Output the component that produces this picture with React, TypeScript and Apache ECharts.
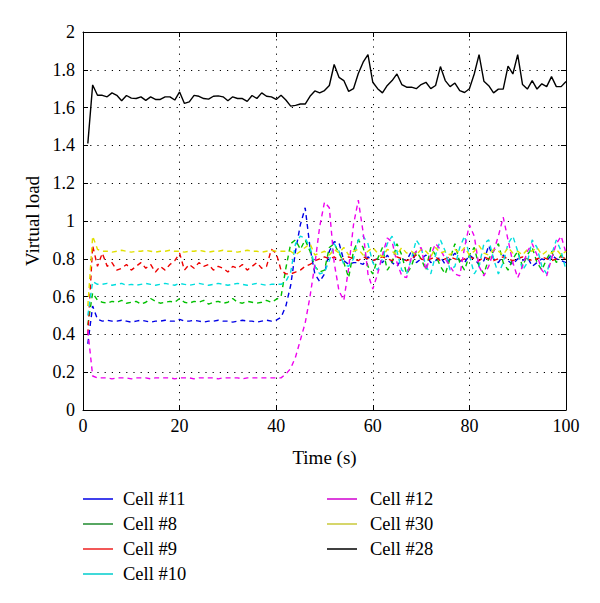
import React, { useEffect, useRef } from "react";
import * as echarts from "echarts";

const SERIES_NAMES = ["Cell #11", "Cell #8", "Cell #9", "Cell #10", "Cell #12", "Cell #30", "Cell #28"];
const SERIES_COLORS = ["#0000e6", "#00c000", "#ee0000", "#00dede", "#ee00ee", "#e0e000", "#000000"];
const LEGEND_COLORS = ["#0000e6", "#1f8a2e", "#ee2020", "#00cccc", "#d000d0", "#c8c83a", "#000000"];
const X_TICKS = [0, 20, 40, 60, 80, 100];
const Y_TICKS = [0, 0.2, 0.4, 0.6, 0.8, 1, 1.2, 1.4, 1.6, 1.8, 2];
const TIME_START = 1; // first sample at t = 1 s, one sample per second

const cell11 = [
  0.35, 0.55, 0.48, 0.47, 0.475, 0.47, 0.47, 0.475, 0.47, 0.465,
  0.47, 0.475, 0.47, 0.465, 0.47, 0.47, 0.475, 0.47, 0.47, 0.48,
  0.47, 0.47, 0.475, 0.47, 0.465, 0.47, 0.47, 0.475, 0.47, 0.47,
  0.465, 0.47, 0.475, 0.47, 0.47, 0.465, 0.47, 0.475, 0.47, 0.475,
  0.49, 0.55, 0.66, 0.84, 0.98, 1.07, 0.86, 0.72, 0.68, 0.72,
  0.84, 0.89, 0.885, 0.79, 0.77, 0.78, 0.78, 0.77, 0.81, 0.79,
  0.80, 0.78, 0.82, 0.78, 0.76, 0.80, 0.79, 0.84, 0.78, 0.80,
  0.82, 0.78, 0.79, 0.81, 0.77, 0.80, 0.83, 0.79, 0.78, 0.82,
  0.80, 0.77, 0.79, 0.87, 0.80, 0.78, 0.82, 0.79, 0.77, 0.80,
  0.79, 0.81, 0.76, 0.78, 0.80, 0.79, 0.82, 0.80, 0.79, 0.78,
];

const cell8 = [
  0.45, 0.62, 0.58, 0.57, 0.565, 0.575, 0.57, 0.58, 0.565, 0.57,
  0.575, 0.56, 0.57, 0.59, 0.575, 0.565, 0.57, 0.575, 0.57, 0.59,
  0.57, 0.565, 0.575, 0.57, 0.58, 0.56, 0.57, 0.575, 0.565, 0.57,
  0.59, 0.57, 0.565, 0.575, 0.57, 0.565, 0.57, 0.58, 0.57, 0.585,
  0.60, 0.75, 0.88, 0.90, 0.85, 0.90, 0.84, 0.76, 0.73, 0.74,
  0.86, 0.88, 0.83, 0.78, 0.70, 0.84, 0.90, 0.86, 0.76, 0.72,
  0.80, 0.86, 0.74, 0.78, 0.88, 0.82, 0.72, 0.76, 0.84, 0.80,
  0.74, 0.86, 0.82, 0.76, 0.72, 0.80, 0.88, 0.78, 0.74, 0.82,
  0.86, 0.76, 0.72, 0.80, 0.84, 0.88, 0.78, 0.74, 0.80, 0.84,
  0.76, 0.82, 0.86, 0.78, 0.74, 0.80, 0.84, 0.78, 0.82, 0.80,
];

const cell9 = [
  0.40, 0.87, 0.76, 0.83, 0.76, 0.78, 0.74, 0.75, 0.77, 0.74,
  0.76, 0.78, 0.75, 0.77, 0.73, 0.76, 0.74, 0.77, 0.79, 0.83,
  0.74, 0.77, 0.75, 0.78, 0.76, 0.77, 0.74, 0.76, 0.75, 0.73,
  0.76, 0.75, 0.77, 0.74, 0.76, 0.78, 0.75, 0.76, 0.85, 0.83,
  0.74, 0.72, 0.72, 0.73, 0.74, 0.76, 0.77, 0.79, 0.80, 0.81,
  0.80, 0.81, 0.79, 0.80, 0.81, 0.80, 0.79, 0.81, 0.80, 0.79,
  0.80, 0.81, 0.80, 0.79, 0.81, 0.80, 0.79, 0.80, 0.82, 0.80,
  0.79, 0.80, 0.81, 0.79, 0.80, 0.81, 0.80, 0.79, 0.80, 0.81,
  0.80, 0.79, 0.81, 0.80, 0.79, 0.80, 0.81, 0.80, 0.79, 0.80,
  0.81, 0.80, 0.79, 0.80, 0.81, 0.80, 0.79, 0.80, 0.81, 0.80,
];

const cell10 = [
  0.50, 0.68, 0.665, 0.665, 0.67, 0.66, 0.665, 0.67, 0.66, 0.665,
  0.66, 0.665, 0.67, 0.665, 0.66, 0.665, 0.67, 0.665, 0.66, 0.67,
  0.665, 0.66, 0.665, 0.67, 0.665, 0.66, 0.665, 0.67, 0.665, 0.66,
  0.665, 0.67, 0.665, 0.66, 0.665, 0.67, 0.665, 0.66, 0.665, 0.665,
  0.665, 0.68, 0.73, 0.88, 0.92, 0.91, 0.86, 0.76, 0.72, 0.73,
  0.79, 0.88, 0.84, 0.77, 0.76, 0.80, 0.90, 0.92, 0.88, 0.78,
  0.74, 0.80, 0.88, 0.92, 0.84, 0.74, 0.72, 0.80, 0.90, 0.86,
  0.76, 0.72, 0.82, 0.90, 0.84, 0.74, 0.76, 0.86, 0.92, 0.82,
  0.72, 0.76, 0.88, 0.90, 0.80, 0.72, 0.78, 0.88, 0.92, 0.84,
  0.74, 0.78, 0.90, 0.86, 0.76, 0.72, 0.82, 0.90, 0.84, 0.74,
];

const cell12 = [
  0.42, 0.18, 0.17, 0.17, 0.17, 0.165, 0.17, 0.17, 0.17, 0.165,
  0.17, 0.17, 0.17, 0.165, 0.17, 0.17, 0.17, 0.17, 0.165, 0.17,
  0.17, 0.17, 0.165, 0.17, 0.17, 0.17, 0.17, 0.165, 0.17, 0.17,
  0.17, 0.17, 0.165, 0.17, 0.17, 0.17, 0.17, 0.17, 0.17, 0.17,
  0.17, 0.19, 0.22, 0.28, 0.37, 0.46, 0.60, 0.77, 0.97, 1.10,
  1.07, 0.78, 0.63, 0.58, 0.75, 0.98, 1.11, 0.94, 0.72, 0.64,
  0.72, 0.82, 0.91, 0.89, 0.78, 0.71, 0.70, 0.81, 0.84, 0.86,
  0.74, 0.82, 0.88, 0.85, 0.80, 0.76, 0.72, 0.71, 0.86, 0.98,
  0.92, 0.76, 0.71, 0.76, 0.84, 0.92, 1.02, 0.90, 0.78, 0.70,
  0.76, 0.84, 0.88, 0.82, 0.74, 0.71, 0.80, 0.88, 0.92, 0.83,
];

const cell30 = [
  0.55, 0.92, 0.85, 0.84, 0.84, 0.835, 0.84, 0.845, 0.84, 0.835,
  0.84, 0.84, 0.845, 0.84, 0.835, 0.84, 0.84, 0.845, 0.84, 0.84,
  0.835, 0.84, 0.84, 0.845, 0.84, 0.835, 0.84, 0.84, 0.845, 0.84,
  0.84, 0.835, 0.84, 0.845, 0.84, 0.84, 0.835, 0.84, 0.845, 0.84,
  0.84, 0.84, 0.84, 0.82, 0.84, 0.86, 0.88, 0.82, 0.83, 0.84,
  0.82, 0.85, 0.83, 0.86, 0.82, 0.84, 0.85, 0.82, 0.84, 0.86,
  0.83, 0.81, 0.85, 0.84, 0.82, 0.86, 0.83, 0.84, 0.82, 0.85,
  0.84, 0.81, 0.86, 0.83, 0.84, 0.82, 0.85, 0.83, 0.86, 0.82,
  0.84, 0.87, 0.83, 0.82, 0.85, 0.84, 0.82, 0.86, 0.83, 0.84,
  0.82, 0.85, 0.84, 0.86, 0.82, 0.84, 0.83, 0.85, 0.82, 0.84,
];

const cell28 = [
  1.41, 1.72, 1.665, 1.665, 1.657, 1.678, 1.665, 1.636, 1.664, 1.65,
  1.648, 1.657, 1.638, 1.657, 1.643, 1.643, 1.657, 1.657, 1.64, 1.683,
  1.622, 1.63, 1.665, 1.66, 1.648, 1.645, 1.66, 1.662, 1.657, 1.636,
  1.657, 1.648, 1.648, 1.633, 1.664, 1.648, 1.678, 1.66, 1.657, 1.643,
  1.665, 1.64, 1.608, 1.612, 1.619, 1.619, 1.66, 1.688, 1.678, 1.69,
  1.717, 1.828, 1.76, 1.743, 1.686, 1.7, 1.78, 1.84, 1.88, 1.734,
  1.7, 1.678, 1.717, 1.743, 1.778, 1.722, 1.708, 1.708, 1.7, 1.722,
  1.734, 1.7, 1.717, 1.817, 1.743, 1.711, 1.73, 1.69, 1.68, 1.7,
  1.778, 1.88, 1.74, 1.716, 1.678, 1.698, 1.698, 1.82, 1.778, 1.88,
  1.722, 1.698, 1.743, 1.698, 1.726, 1.711, 1.764, 1.711, 1.711, 1.738,
];

const SERIES_VALUES = [cell11, cell8, cell9, cell10, cell12, cell30, cell28];

const FONT = "Liberation Serif";

export default function App() {
  const ref = useRef<HTMLDivElement>(null);

  useEffect(() => {
    if (!ref.current) return;
    const chart = echarts.init(ref.current, undefined, { renderer: "svg" });

    const series = SERIES_NAMES.map((name, i) => ({
      name,
      type: "line",
      xAxisIndex: 0,
      yAxisIndex: 0,
      symbol: "none",
      z: i === 6 ? 3 : 2,
      data: SERIES_VALUES[i].map((v, k) => [TIME_START + k, v]),
      lineStyle: {
        color: SERIES_COLORS[i],
        width: 1.4,
        type: i === 6 ? "solid" : [5, 4],
      },
      itemStyle: { color: SERIES_COLORS[i] },
    }));

    const legendItem = (name: string) => {
      const i = SERIES_NAMES.indexOf(name);
      return {
        name,
        icon: "rect",
        itemStyle: { color: LEGEND_COLORS[i], borderWidth: 0 },
      };
    };

    const legendBase = (textPad: number) => ({
      orient: "vertical",
      padding: 0,
      itemWidth: 30,
      itemHeight: 1.5,
      itemGap: 6,
      textStyle: {
        fontFamily: FONT,
        fontSize: 18.5,
        color: "#000",
        lineHeight: 18.5,
        padding: [0, 0, 0, textPad],
      },
      selectedMode: false,
    });

    const axisCommonX = {
      type: "value",
      min: 0,
      max: 100,
      interval: 20,
      axisLine: { show: true, onZero: false, lineStyle: { color: "#000", width: 1 } },
      axisTick: { show: true, inside: true, length: 5, lineStyle: { color: "#000" } },
    };
    const axisCommonY = {
      type: "value",
      min: 0,
      max: 2,
      interval: 0.2,
      axisLine: { show: true, onZero: false, lineStyle: { color: "#000", width: 1 } },
      axisTick: { show: true, inside: true, length: 5, lineStyle: { color: "#000" } },
    };

    chart.setOption({
      animation: false,
      backgroundColor: "#fff",
      textStyle: { fontFamily: FONT },
      grid: { left: 83, right: 34, top: 32, bottom: 193, containLabel: false },
      legend: [
        { ...legendBase(5), left: 83, top: 489.5, data: SERIES_NAMES.slice(0, 4).map(legendItem) },
        { ...legendBase(8), left: 327, top: 489.5, data: SERIES_NAMES.slice(4).map(legendItem) },
      ],
      xAxis: [
        {
          ...axisCommonX,
          position: "bottom",
          name: "Time (s)",
          nameLocation: "middle",
          nameGap: 38,
          nameTextStyle: { fontFamily: FONT, fontSize: 19, color: "#000", verticalAlign: "top" },
          axisLabel: {
            fontFamily: FONT,
            fontSize: 18,
            color: "#000",
            margin: 7,
            formatter: (v: number) => (X_TICKS.includes(v) ? String(v) : ""),
          },
          splitLine: { show: true, lineStyle: { color: "#000", type: [1.2, 6], width: 1 } },
        },
        {
          ...axisCommonX,
          position: "top",
          axisLabel: { show: false },
          splitLine: { show: false },
        },
      ],
      yAxis: [
        {
          ...axisCommonY,
          position: "left",
          name: "Virtual load",
          nameLocation: "middle",
          nameGap: 40,
          nameTextStyle: { fontFamily: FONT, fontSize: 19, color: "#000" },
          axisLabel: {
            fontFamily: FONT,
            fontSize: 18,
            color: "#000",
            margin: 8,
            formatter: (v: number) => {
              const t = Y_TICKS.find((y) => Math.abs(y - v) < 1e-6);
              return t === undefined ? "" : String(t);
            },
          },
          splitLine: { show: true, lineStyle: { color: "#000", type: [1.2, 6], width: 1 } },
        },
        {
          ...axisCommonY,
          position: "right",
          axisLabel: { show: false },
          splitLine: { show: false },
        },
      ],
      series,
    });

    return () => chart.dispose();
  }, []);

  return <div ref={ref} style={{ width: 600, height: 603, position: "absolute", left: 0, top: 0 }} />;
}
